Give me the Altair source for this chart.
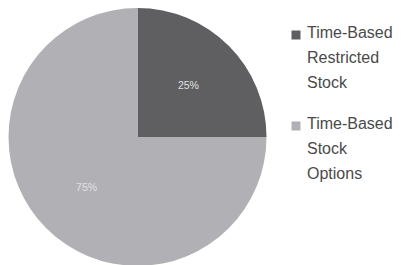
import altair as alt
import pandas as pd

categories = ["Time-Based Restricted Stock", "Time-Based Stock Options"]
values = [25, 75]
labels = ["25%", "75%"]
order = [0, 1]
colors = ["#5f5f62", "#b1b1b5"]

df = pd.DataFrame({"category": categories, "value": values, "label": labels, "order": order})

base = alt.Chart(df).encode(
    theta=alt.Theta("value:Q", stack=True),
    order=alt.Order("order:Q"),
)

arcs = base.mark_arc(radius=129, stroke=None).encode(
    color=alt.Color(
        "category:N",
        scale=alt.Scale(domain=categories, range=colors),
        legend=alt.Legend(
            title=None,
            orient="none",
            legendX=280,
            legendY=18,
            symbolType="square",
            symbolSize=81,
            symbolStrokeWidth=0,
            labelFont="Liberation Sans",
            labelFontSize=16,
            labelColor="#4a4a4a",
            labelExpr="split(datum.label, ' ')",
            labelBaseline="top",
            labelOffset=3,
            rowPadding=25,
            labelLimit=200,
        ),
    )
)

text = base.mark_text(radius=72, font="Liberation Sans", fontSize=10.5, color="#e0e0e0").encode(
    text="label:N"
)

chart = (
    (arcs + text)
    .properties(width=259, height=256, padding=0)
    .configure_view(stroke=None)
    .configure(style={"guide-label": {"lineHeight": 25, "dy": -10}})
)

chart.save("out.html", embed_options={"renderer": "svg", "actions": False})
